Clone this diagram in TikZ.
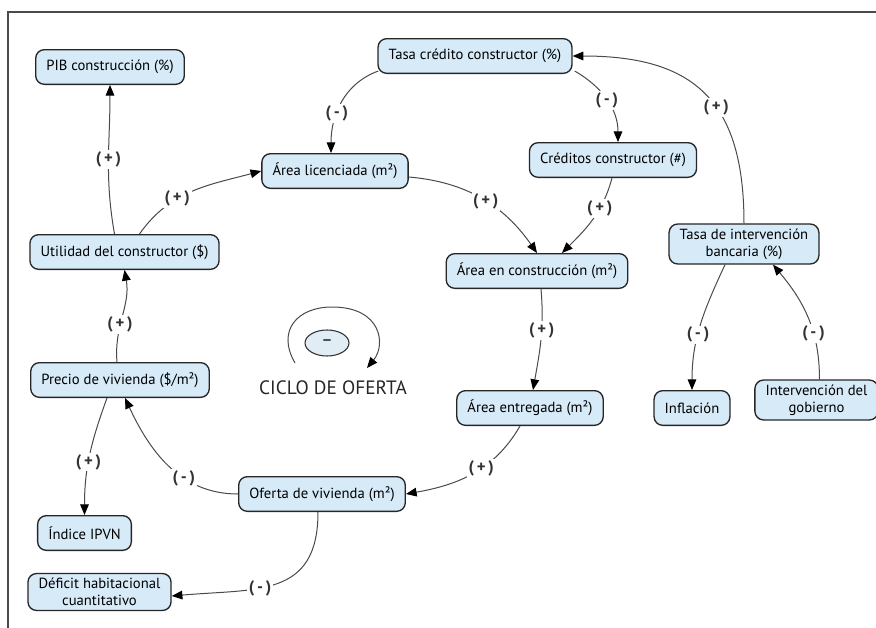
\documentclass[tikz,border=0pt]{standalone}
\usepackage{fontspec}
\setmainfont{PT Sans}
\usetikzlibrary{shapes.geometric, arrows.meta, positioning, calc}
\definecolor{boxfill}{HTML}{D6EAF8}
\definecolor{linegray}{HTML}{4A4A4A}

\begin{document}
\begin{tikzpicture}[
    x=0.75pt, y=-0.75pt,
    box/.style={rectangle, draw=black!85, line width=1pt, fill=boxfill, rounded corners=6.5pt,
        minimum height=26pt, inner xsep=8pt, align=center, font=\fontsize{11}{13}\selectfont},
    arrow/.style={-{Triangle[length=8pt, width=6.5pt, color=black]}, draw=linegray, line width=0.75pt},
    sign/.style={fill=white, inner sep=1.2pt, font=\fontsize{12.5}{14}\selectfont\bfseries, text=black!80}
]
    \useasboundingbox (0,0) rectangle (876,628);
    \draw[linegray, line width=0.8pt] (876,12) -- (8,12) -- (8,628);

    % Top rows
    \node[box] (pib) at (110,67) {PIB construcción (\%)};
    \node[box] (tasa) at (475,56) {Tasa crédito constructor (\%)};
    \node[box] (licenciada) at (335,171) {Área licenciada (m²)};
    \node[box] (creditos) at (613,160) {Créditos constructor (\#)};
    \node[box] (utilidad) at (124.5,252) {Utilidad del constructor (\$)};
    \node[box] (construccion) at (537,271) {Área en construcción (m²)};
    \node[box] (intervencion) at (744,244) {Tasa de intervención\\bancaria (\%)};

    % Middle rows
    \node[box] (precio) at (120,380) {Precio de vivienda (\$/m²)};
    \node[box] (entregada) at (530,408) {Área entregada (m²)};
    \node[box] (inflacion) at (692,408) {Inflación};
    \node[box] (gobierno) at (816.5,400) {Intervención del\\gobierno};

    % Bottom rows
    \node[box] (oferta) at (322,494) {Oferta de vivienda (m²)};
    \node[box] (ipvn) at (84.5,533) {Índice IPVN};
    \node[box] (deficit) at (99.5,592) {Déficit habitacional\\cuantitativo};

    % Loop symbol
    \node[draw=black!80, line width=0.8pt, fill=black!4!boxfill!60, ellipse, minimum width=33pt, minimum height=19.5pt,
        inner sep=0pt, font=\fontsize{13}{14}\selectfont] (loop) at (327,343) {--};
    \node[font=\fontsize{14.5}{16}\selectfont, text=black!85] (ciclo) at (333,388) {CICLO DE OFERTA};
    \draw[arrow] (295,363) .. controls (276,330) and (298,307) .. (332,307)
        .. controls (382,307) and (386,345) .. (367,368);

    % Arrows
    \draw[arrow] ($(utilidad.north)+(-10,0)$) to[out=100, in=-90] node[sign, pos=0.5] {(\,+\,)} (pib.south);
    \draw[arrow] ($(utilidad.north)+(15,0)$) to[out=55, in=195] node[sign, pos=0.37] {(\,+\,)} (licenciada.west);
    \draw[arrow] ($(tasa.south west)+(1,-3)$) to[out=200, in=90] node[sign, pos=0.62] {(\,-\,)} ($(licenciada.north)+(-4,0)$);
    \draw[arrow] ($(tasa.south east)+(2,-3)$) to[out=-30, in=90] node[sign, pos=0.5] {(\,-\,)} ($(creditos.north)+(5,0)$);
    \draw[arrow] ($(creditos.south)+(-1,0)$) to[out=-105, in=45] node[sign, pos=0.35] {(\,+\,)} ($(construccion.north)+(25,0)$);
    \draw[arrow] ($(licenciada.east)+(0,6)$) to[out=-5, in=125] node[sign, pos=0.53] {(\,+\,)} (construccion.north);
    \draw[arrow] (intervencion.north) to[out=90, in=0, looseness=1.3] node[sign, pos=0.42] {(\,+\,)} (tasa.east);
    \draw[arrow] ($(gobierno.north)+(3,0)$) to[out=90, in=-50] node[sign, pos=0.36] {(\,-\,)} ($(intervencion.south)+(29,0)$);
    \draw[arrow] ($(intervencion.south)+(-19,0)$) to[out=-115, in=90] node[sign, pos=0.58] {(\,-\,)} (inflacion.north);
    \draw[arrow] ($(construccion.south)+(4,0)$) to[out=-85, in=80] node[sign, pos=0.4] {(\,+\,)} ($(entregada.north)+(3,0)$);
    \draw[arrow] ($(entregada.south)+(-10,0)$) to[out=-120, in=10] node[sign, pos=0.42] {(\,+\,)} (oferta.east);
    \draw[arrow] (oferta.west) to[out=180, in=-65] node[sign, pos=0.37] {(\,-\,)} ($(precio.south)+(5,0)$);
    \draw[arrow] ($(precio.south)+(-13,0)$) to[out=-110, in=90] node[sign, pos=0.56] {(\,+\,)} (ipvn.north);
    \draw[arrow] ($(oferta.south)+(-4,0)$) to[out=-90, in=5, looseness=1.3] node[sign, pos=0.6] {(\,-\,)} ($(deficit.east)+(0,4)$);
    \draw[arrow] ($(precio.north)+(-3,0)$) to[out=95, in=-80] node[sign, pos=0.4] {(\,+\,)} (utilidad.south);
\end{tikzpicture}
\end{document}
